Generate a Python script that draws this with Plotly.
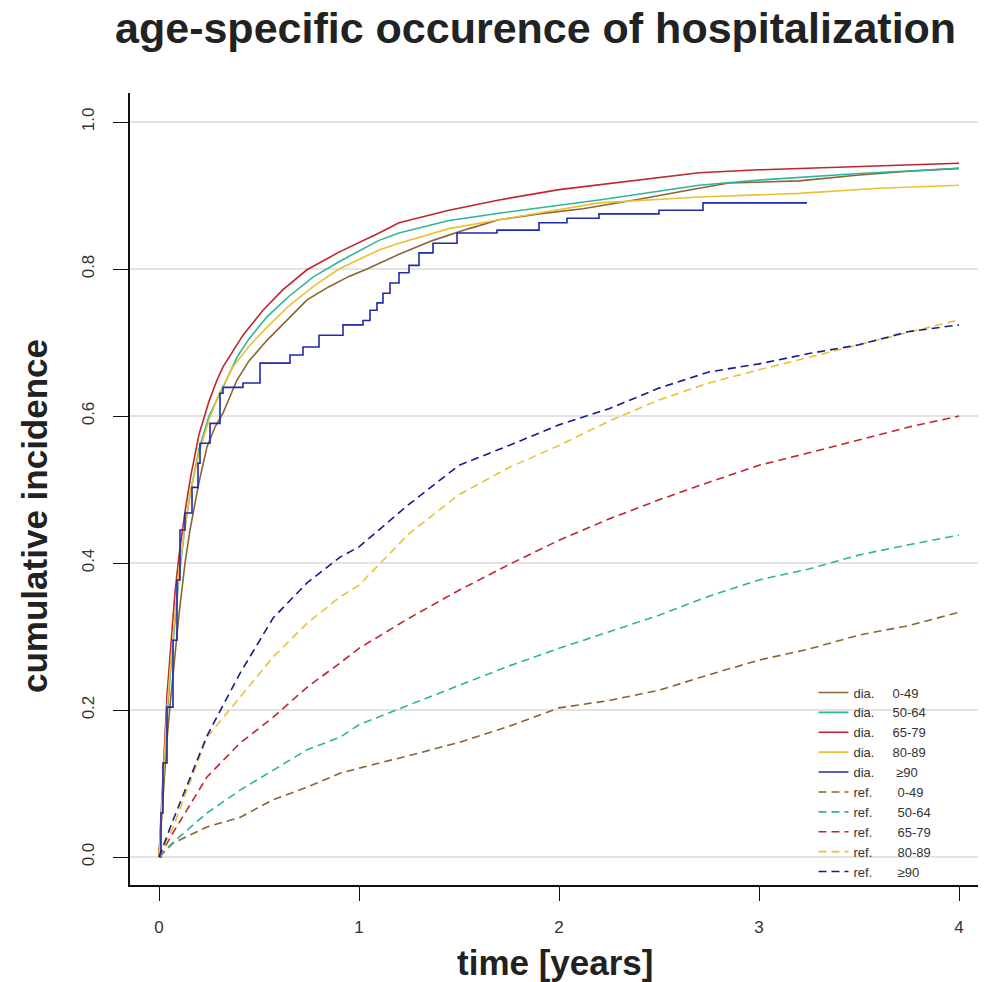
import plotly.graph_objects as go

# ---------------- data ----------------
# solid: observed cumulative incidence in patients ("dia.")
t_dia_0_49 = [0, 0.02, 0.04, 0.06, 0.08, 0.10, 0.13, 0.155, 0.20, 0.24, 0.28, 0.32, 0.39, 0.45, 0.54, 0.62,
              0.74, 0.85, 0.95, 1.04, 1.20, 1.37, 1.55, 1.70, 1.90, 2.12, 2.40, 2.70, 2.85, 3.20, 3.50, 3.75, 4.00]
y_dia_0_49 = [0, 0.08, 0.16, 0.22, 0.28, 0.33, 0.40, 0.445, 0.51, 0.558, 0.585, 0.604, 0.649, 0.675, 0.703, 0.725,
              0.758, 0.776, 0.790, 0.800, 0.820, 0.839, 0.855, 0.867, 0.875, 0.882, 0.895, 0.910, 0.917, 0.920, 0.928, 0.933, 0.937]

t_dia_50_64 = [0, 0.02, 0.04, 0.06, 0.08, 0.10, 0.13, 0.16, 0.20, 0.25, 0.32, 0.39, 0.45, 0.54, 0.65, 0.77,
               0.90, 1.10, 1.20, 1.45, 1.70, 2.20, 2.70, 3.00, 3.50, 4.00]
y_dia_50_64 = [0, 0.10, 0.19, 0.26, 0.32, 0.38, 0.45, 0.50, 0.555, 0.600, 0.639, 0.680, 0.705, 0.735, 0.763, 0.789,
               0.810, 0.839, 0.849, 0.866, 0.876, 0.894, 0.914, 0.921, 0.930, 0.937]

t_dia_65_79 = [0, 0.02, 0.04, 0.06, 0.08, 0.10, 0.13, 0.16, 0.20, 0.25, 0.29, 0.32, 0.42, 0.52, 0.62, 0.74,
               0.90, 1.10, 1.20, 1.45, 1.70, 2.00, 2.35, 2.70, 3.00, 3.50, 4.00]
y_dia_65_79 = [0, 0.12, 0.22, 0.29, 0.36, 0.41, 0.47, 0.52, 0.575, 0.620, 0.649, 0.667, 0.710, 0.744, 0.772, 0.799,
               0.823, 0.849, 0.863, 0.880, 0.894, 0.908, 0.920, 0.931, 0.935, 0.940, 0.944]

t_dia_80_89 = [0, 0.02, 0.04, 0.06, 0.08, 0.10, 0.13, 0.16, 0.20, 0.25, 0.30, 0.37, 0.45, 0.54, 0.65, 0.77,
               0.90, 1.10, 1.20, 1.45, 1.70, 2.20, 2.70, 3.20, 3.60, 4.00]
y_dia_80_89 = [0, 0.11, 0.20, 0.27, 0.33, 0.39, 0.45, 0.50, 0.550, 0.595, 0.630, 0.667, 0.695, 0.721, 0.750, 0.776,
               0.800, 0.826, 0.835, 0.855, 0.867, 0.890, 0.898, 0.903, 0.910, 0.914]

t_dia_90 = [0, 0.01, 0.02, 0.04, 0.07, 0.09, 0.105, 0.13, 0.165, 0.195, 0.205, 0.255, 0.305, 0.32, 0.42, 0.505,
            0.655, 0.72, 0.80, 0.92, 1.02, 1.055, 1.09, 1.12, 1.155, 1.20, 1.25, 1.30, 1.37, 1.49, 1.69, 1.90,
            2.04, 2.20, 2.50, 2.72, 3.24]
y_dia_90 = [0, 0.06, 0.128, 0.204, 0.295, 0.377, 0.445, 0.468, 0.503, 0.536, 0.563, 0.590, 0.631, 0.639, 0.645, 0.672,
            0.683, 0.694, 0.710, 0.724, 0.730, 0.744, 0.754, 0.767, 0.781, 0.795, 0.805, 0.822, 0.835, 0.849, 0.853, 0.863,
            0.869, 0.875, 0.880, 0.890, 0.890]

# dashed: reference population ("ref.")
t_ref = [0, 0.07, 0.24, 0.405, 0.57, 0.74, 0.905, 1.0, 1.25, 1.5, 1.75, 2.0, 2.25, 2.5, 2.75, 3.0, 3.25, 3.5, 3.75, 4.0]
y_ref_0_49 = [0, 0.019, 0.041, 0.054, 0.078, 0.095, 0.114, 0.121, 0.138, 0.156, 0.178, 0.203, 0.213, 0.227, 0.248,
              0.268, 0.283, 0.302, 0.315, 0.333]
y_ref_50_64 = [0, 0.020, 0.060, 0.091, 0.118, 0.146, 0.163, 0.180, 0.207, 0.234, 0.260, 0.284, 0.307, 0.329, 0.355,
               0.377, 0.392, 0.411, 0.425, 0.438]
y_ref_65_79 = [0, 0.033, 0.109, 0.155, 0.190, 0.231, 0.264, 0.284, 0.325, 0.363, 0.398, 0.431, 0.460, 0.486, 0.510,
               0.533, 0.550, 0.567, 0.585, 0.600]
y_ref_80_89 = [0, 0.040, 0.163, 0.218, 0.272, 0.318, 0.354, 0.370, 0.440, 0.493, 0.530, 0.560, 0.593, 0.622, 0.645,
               0.663, 0.680, 0.697, 0.715, 0.731]
y_ref_90 = [0, 0.050, 0.165, 0.250, 0.325, 0.373, 0.408, 0.422, 0.480, 0.533, 0.560, 0.588, 0.610, 0.638, 0.660,
            0.671, 0.685, 0.697, 0.715, 0.724]

x_ticks = [0, 1, 2, 3, 4]
y_ticks = [0.0, 0.2, 0.4, 0.6, 0.8, 1.0]
y_tick_labels = ["0.0", "0.2", "0.4", "0.6", "0.8", "1.0"]

NB = "\u00a0"
series = [
    ("dia." + NB * 5 + "0-49", t_dia_0_49, y_dia_0_49, "#8B6334", "solid", "linear"),
    ("dia." + NB * 5 + "50-64", t_dia_50_64, y_dia_50_64, "#2DB59C", "solid", "linear"),
    ("dia." + NB * 5 + "65-79", t_dia_65_79, y_dia_65_79, "#C0262C", "solid", "linear"),
    ("dia." + NB * 5 + "80-89", t_dia_80_89, y_dia_80_89, "#E8C232", "solid", "linear"),
    ("dia." + NB * 6 + "\u226590", t_dia_90, y_dia_90, "#1F2AAE", "solid", "hv"),
    ("ref." + NB * 7 + "0-49", t_ref, y_ref_0_49, "#8B6334", "8px,5px", "linear"),
    ("ref." + NB * 7 + "50-64", t_ref, y_ref_50_64, "#2DB59C", "8px,5px", "linear"),
    ("ref." + NB * 7 + "65-79", t_ref, y_ref_65_79, "#C0262C", "8px,5px", "linear"),
    ("ref." + NB * 7 + "80-89", t_ref, y_ref_80_89, "#E8C232", "8px,5px", "linear"),
    ("ref." + NB * 7 + "\u226590", t_ref, y_ref_90, "#1A1A8C", "8px,5px", "linear"),
]

FONT = "Liberation Sans, Arial, sans-serif"

fig = go.Figure()
for name, xs, ys, col, dash, shape in series:
    fig.add_trace(go.Scatter(x=xs, y=ys, mode="lines", name=name,
                             line=dict(color=col, width=1.6, dash=dash, shape=shape)))

fig.update_layout(
    width=990, height=982,
    margin=dict(l=130, r=12, t=93, b=97),
    paper_bgcolor="white", plot_bgcolor="white",
    font=dict(family=FONT, color="#333333"),
    showlegend=True,
    legend=dict(x=0.806, y=0.262, xanchor="left", yanchor="top",
                bgcolor="rgba(0,0,0,0)", borderwidth=0,
                font=dict(size=13, color="#333333", family=FONT),
                tracegroupgap=0, itemwidth=30),
    title=dict(text="<b>age-specific occurence of hospitalization</b>",
               x=0.541, xref="container", xanchor="center",
               y=1 - 28 / 982, yref="container", yanchor="middle",
               font=dict(size=43, color="#222222", family=FONT)),
)

fig.update_xaxes(range=[-0.145, 4.095], tickvals=x_ticks, ticktext=[str(v) for v in x_ticks],
                 showgrid=False, zeroline=False, showline=True, linecolor="#111111", linewidth=1.6,
                 ticks="outside", ticklen=14, tickwidth=1.4, tickcolor="#111111",
                 tickfont=dict(size=17, color="#333333"), ticklabelstandoff=12)
fig.update_yaxes(range=[-0.038, 1.0395], tickvals=y_ticks, ticktext=y_tick_labels, tickangle=-90,
                 showgrid=True, gridcolor="#E3E3E3", gridwidth=1.5, zeroline=False,
                 showline=True, linecolor="#111111", linewidth=1.6,
                 ticks="outside", ticklen=15, tickwidth=1.4, tickcolor="#111111",
                 tickfont=dict(size=17, color="#333333"), ticklabelstandoff=12)

fig.add_annotation(text="<b>time [years]</b>", xref="paper", yref="paper",
                   x=(555 - 130) / 848, y=-(963 - 885) / 792, xanchor="center", yanchor="middle",
                   showarrow=False, font=dict(size=35, color="#222222", family=FONT))
fig.add_annotation(text="<b>cumulative incidence</b>", xref="paper", yref="paper", textangle=-90,
                   x=-(130 - 34) / 848, y=(885 - 516) / 792, xanchor="center", yanchor="middle",
                   showarrow=False, font=dict(size=35, color="#222222", family=FONT))

fig.write_html("out.html", config={"displayModeBar": False},
               post_script="document.body.style.margin='0';")
